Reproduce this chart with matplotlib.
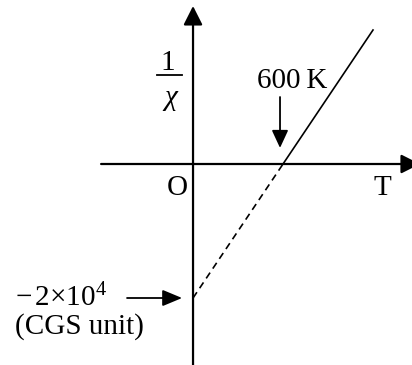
import numpy as np
import matplotlib
matplotlib.use('Agg')
import matplotlib.pyplot as plt

plt.rcParams['font.family'] = ['Liberation Serif', 'DejaVu Serif']
plt.rcParams['mathtext.fontset'] = 'custom'
plt.rcParams['mathtext.rm'] = 'Liberation Serif'
plt.rcParams['mathtext.it'] = 'Liberation Serif:italic'
plt.rcParams['lines.scale_dashes'] = False

# data: 1/chi vs T (Curie-Weiss), extrapolated part dashed
T_curie = 600            # K
inv_chi_at_0 = -2e4      # CGS unit
T_line = [0, T_curie, 1200]
inv_chi_line = [inv_chi_at_0, 0, 2e4]

fig = plt.figure(figsize=(4.12, 3.65), dpi=100)
ax = fig.add_axes([0, 0, 1, 1])
ax.set_xlim(-1287, 1460)
ax.set_ylim(-30000, 24478)
ax.axis('off')

def arrow(x0, y0, x1, y1, hl, hw, lw):
    ax.annotate('', xy=(x1, y1), xytext=(x0, y0), annotation_clip=False,
                arrowprops=dict(arrowstyle='-|>,head_length=%g,head_width=%g' % (hl, hw),
                                mutation_scale=1, lw=lw, color='black', fc='black',
                                shrinkA=0, shrinkB=0))

# axes
arrow(-613, 0, 1513, 0, 11.5, 5.8, 1.6)
arrow(0, -31000, 0, 23582, 11.5, 5.8, 1.6)

# line
ax.plot(T_line[:2], inv_chi_line[:2], color='black', lw=1.2, dashes=(5, 3.5))
ax.plot(T_line[1:], inv_chi_line[1:], color='black', lw=1.2)

fs = 21
# y label 1/chi
ax.text(-167, 14000, '1', fontsize=fs, ha='center', va='baseline')
ax.plot([-240, -73], [13358, 13358], color='black', lw=1.3)
ax.text(-150, 8806, 'χ', fontsize=fs, ha='center', va='baseline', style='italic')

ax.text(-103, -4627, 'O', fontsize=fs, ha='center', va='baseline')
ax.text(1263, -4627, 'T', fontsize=fs, ha='center', va='baseline')

# 600 K annotation
ax.text(660, 11343, '600\u2009K', fontsize=fs, ha='center', va='baseline')
arrow(T_curie - 20, 10000, T_curie - 20, 2400, 10.8, 5.0, 1.3)

# intercept annotation
ax.text(-1187, -21200, r'$-\,2{\times}10^4$', fontsize=fs, ha='left', va='baseline')
ax.text(-1187, -25370, '(CGS unit)', fontsize=fs, ha='left', va='baseline')
arrow(-440, inv_chi_at_0, -73, inv_chi_at_0, 12, 5.0, 1.3)

fig.savefig('out.png', dpi=100)
